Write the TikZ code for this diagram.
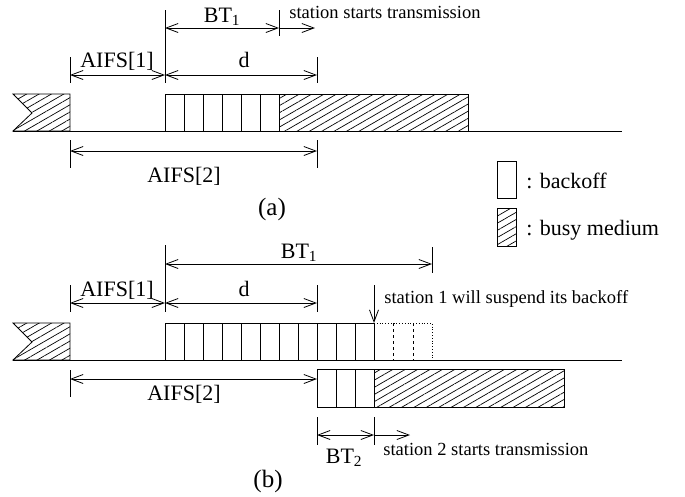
\documentclass[tikz,border=0pt]{standalone}
\usepackage{fontspec}
\setmainfont{Liberation Serif}
\usetikzlibrary{arrows.meta,patterns.meta}
\tikzset{
  lbl/.style={font=\fontsize{22}{24}\selectfont, anchor=base, inner sep=0pt},
  note/.style={font=\fontsize{18.5}{21}\selectfont, anchor=base west, inner sep=0pt},
  subcap/.style={font=\fontsize{25}{28}\selectfont, anchor=base, inner sep=0pt},
  busy/.style={draw, pattern={Lines[angle=30,distance=6.2pt,line width=0.7pt]}},
  slot/.style={draw},
  barb/.tip={Straight Barb[length=12pt,width=9pt]},
  dim/.style={barb-barb},
  ray/.style={-barb}
}
\begin{document}
\begin{tikzpicture}[x=1pt,y=-1pt,line width=0.8pt]
  \useasboundingbox (0,0) rectangle (685,496);
  % ---------- (a) ----------
  % time axis
  \coordinate (ta0) at (13,131);
  \coordinate (ta1) at (622,131);
  \draw (ta0) -- (ta1);
  % busy medium before
  \draw[busy] (13,94) -- (70,94) -- (70,131) -- (13,131) -- (32,113) -- cycle;
  % backoff slots
  \foreach \i in {0,...,5}
    \draw[slot] (165+19*\i,94) rectangle ++(19,37);
  % transmission
  \draw[busy] (279,94) rectangle (468,131);
  % ticks
  \draw (70,57) -- (70,83);
  \draw (165,10) -- (165,83);
  \draw (279,10) -- (279,36);
  \draw (317,57) -- (317,83);
  \draw (70,140) -- (70,168);
  \draw (317,140) -- (317,168);
  % dimension arrows
  \coordinate (aBTa) at (165,28);
  \coordinate (aBTb) at (279,28);
  \coordinate (aTX) at (315,28);
  \coordinate (aIa) at (70,75);
  \coordinate (aIb) at (165,75);
  \coordinate (aD) at (317,75);
  \coordinate (aIIa) at (70,151);
  \coordinate (aIIb) at (317,151);
  \draw[dim] (aBTa) -- (aBTb);
  \draw[ray] (aBTb) -- (aTX);
  \draw[dim] (aIa) -- (aIb);
  \draw[dim] (aIb) -- (aD);
  \draw[dim] (aIIa) -- (aIIb);
  % labels
  \node[lbl] (aBT) at (222,22) {BT\textsubscript{1}};
  \node[note] (aStart) at (289,18) {station starts transmission};
  \node[lbl] (aAIFSa) at (117,67) {AIFS[1]};
  \node[lbl] (ad) at (244,67) {d};
  \node[lbl] (aAIFSb) at (184,182) {AIFS[2]};
  \node[subcap] (acap) at (272,215) {(a)};

  % ---------- legend ----------
  \draw[slot] (497,161) rectangle (516,198);
  \node[lbl, anchor=base west] (lgBack) at (526,188) {: backoff};
  \draw[busy] (497,208) rectangle (516,246);
  \node[lbl, anchor=base west] (lgBusy) at (526,235) {: busy medium};

  % ---------- (b) ----------
  % time axis
  \coordinate (tb0) at (13,360);
  \coordinate (tb1) at (622,360);
  \draw (tb0) -- (tb1);
  % busy medium before
  \draw[busy] (13,323) -- (70,323) -- (70,360) -- (13,360) -- (32,342) -- cycle;
  % station 1 backoff
  \foreach \i in {0,...,10}
    \draw[slot] (165+19*\i,323) rectangle ++(19,37);
  % suspended slots
  \draw[dotted] (374,323) -- (432,323) -- (432,360);
  \draw[dashed] (393,323) -- (393,360);
  \draw[dashed] (413,323) -- (413,360);
  % station 2 backoff and transmission
  \foreach \i in {0,1,2}
    \draw[slot] (317+19*\i,369) rectangle ++(19,38);
  \draw[busy] (374,369) rectangle (564,407);
  % ticks
  \draw (70,285) -- (70,312);
  \draw (165,245) -- (165,312);
  \draw (317,285) -- (317,312);
  \draw (432,247) -- (432,273);
  \draw (70,370) -- (70,397);
  \draw (317,417) -- (317,445);
  \draw (374,417) -- (374,445);
  % dimension arrows
  \coordinate (bBTa) at (165,264);
  \coordinate (bBTb) at (432,264);
  \coordinate (bIa) at (70,303);
  \coordinate (bIb) at (165,303);
  \coordinate (bD) at (317,303);
  \coordinate (bIIa) at (70,379);
  \coordinate (bIIb) at (317,379);
  \coordinate (bBT2a) at (317,435);
  \coordinate (bBT2b) at (374,435);
  \coordinate (bTX) at (410,435);
  \coordinate (bSusA) at (374,285);
  \coordinate (bSusB) at (374,323);
  \draw[dim] (bBTa) -- (bBTb);
  \draw[dim] (bIa) -- (bIb);
  \draw[dim] (bIb) -- (bD);
  \draw[dim] (bIIa) -- (bIIb);
  \draw[dim] (bBT2a) -- (bBT2b);
  \draw[ray] (bBT2b) -- (bTX);
  \draw[ray] (bSusA) -- (bSusB);
  % labels
  \node[lbl] (bBT) at (299,258) {BT\textsubscript{1}};
  \node[lbl] (bAIFSa) at (117,296) {AIFS[1]};
  \node[lbl] (bd) at (244,296) {d};
  \node[note] (bSus) at (384,303) {station 1 will suspend its backoff};
  \node[lbl] (bAIFSb) at (184,400) {AIFS[2]};
  \node[lbl] (bBT2) at (344,463) {BT\textsubscript{2}};
  \node[note] (bStart) at (383,455) {station 2 starts transmission};
  \node[subcap] (bcap) at (268,487) {(b)};
\end{tikzpicture}
\end{document}
